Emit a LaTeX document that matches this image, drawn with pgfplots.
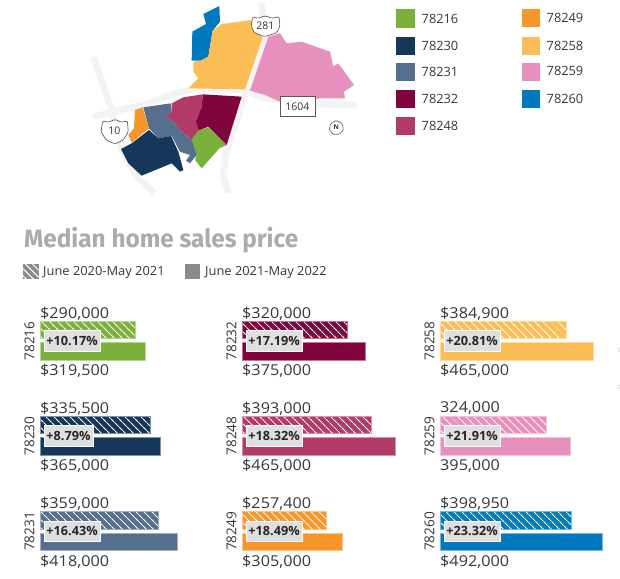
\documentclass[border=0pt]{standalone}
\usepackage{fontspec}
\usepackage{pgfplots}
\pgfplotsset{compat=1.18}
\usetikzlibrary{patterns.meta}
\setmainfont{Open Sans}
\newfontfamily\titlefont{Fira Sans}
\definecolor{cA}{HTML}{7AB03B}
\definecolor{cB}{HTML}{17375A}
\definecolor{cC}{HTML}{566F8E}
\definecolor{cD}{HTML}{80053F}
\definecolor{cE}{HTML}{B23A68}
\definecolor{cF}{HTML}{F7962B}
\definecolor{cG}{HTML}{FDBD56}
\definecolor{cH}{HTML}{E890BD}
\definecolor{cI}{HTML}{0079BF}
\definecolor{txt}{HTML}{33373B}
\definecolor{road}{HTML}{F3F3F3}
\definecolor{legendgray}{HTML}{8A8B8E}
\pgfplotsset{hid/.style={hide axis,scale only axis,clip=false,y dir=reverse}}
% x pos, top y, colour, v1, v2, zip, top label, bottom label, pct
\newcommand{\panel}[9]{%
  \begin{axis}[hid,at={(#1pt,-#2pt)},anchor=north west,width=180pt,height=38.8pt,
    xmin=0,xmax=547112,ymin=0,ymax=38.8]
    \addplot[xbar,bar shift=0pt,bar width=17.3pt,fill=#3,draw=#3!55!white,line width=.4pt,
      postaction={pattern={Lines[angle=-45,distance=5.4pt,line width=1pt]},pattern color=white}]
      coordinates {(#4,8.65)};
    \addplot[xbar,bar shift=0pt,bar width=17.3pt,fill=#3,draw=#3!55!white,line width=.4pt]
      coordinates {(#5,30.15)};
  \end{axis}
  \node[rotate=90,font=\fontsize{13.6}{14}\selectfont,text=txt,inner sep=0pt] at ({#1-10.5},{#2+20}) {#6};
  \node[anchor=west,font=\fontsize{15}{16}\selectfont,text=txt,inner sep=0pt,xscale=1.08] at (#1,{#2-7.7}) {#7};
  \node[anchor=west,font=\fontsize{15}{16}\selectfont,text=txt,inner sep=0pt,xscale=1.08] at (#1,{#2+50.2}) {#8};
  \node[anchor=west,fill=gray!25!white,draw=white,line width=.3pt,text=black!85,
    font=\fontsize{12.7}{14}\selectfont\bfseries,inner xsep=2.8pt,inner ysep=0pt,
    minimum height=20.5pt] at (#1+3.5,{#2+19.7}) {#9};
}
\begin{document}
\begin{tikzpicture}[x=1pt,y=-1pt]
\path[use as bounding box] (0,0) rectangle (620,578);
% map: coordinates in a 3x grid
\begin{axis}[hid,at={(80pt,0pt)},anchor=north west,width=290pt,height=200pt,
  xmin=0,xmax=870,ymin=0,ymax=600]
  \addplot[road,line width=6.5pt,line join=round] coordinates {(40,350)(100,335)(200,312)(280,282)(350,265)(490,270)(560,295)(650,310)(830,315)};
  \addplot[road,line width=6.5pt,line join=round] coordinates {(40,170)(95,330)(125,450)(170,530)(225,580)};
  \addplot[road,line width=6.5pt,line join=round] coordinates {(545,10)(555,100)(500,270)(435,470)(430,530)(445,580)};
  \addplot[fill=cI,draw=none] coordinates {(370,42)(418,18)(420,65)(398,92)(385,170)(362,182)(335,182)(337,95)(378,72)} --cycle;
  \addplot[fill=cG,draw=none] coordinates {(425,72)(515,60)(520,90)(548,112)(495,268)(325,265)(355,235)(340,215)(340,185)(365,182)(385,170)(398,92)} --cycle;
  \addplot[fill=cH,draw=none] coordinates {(565,110)(600,100)(620,130)(665,125)(750,155)(760,200)(775,190)(822,255)(792,275)(795,295)(720,295)(650,305)(600,305)(555,285)(510,272)} --cycle;
  \addplot[fill=cD,draw=none] coordinates {(368,283)(485,290)(440,435)(385,380)(355,392)(347,365)(365,320)} --cycle;
  \addplot[fill=cE,draw=none] coordinates {(275,310)(310,292)(368,283)(365,320)(347,365)(357,392)(335,420)(305,395)(275,360)(253,350)(275,335)} --cycle;
  \addplot[fill=cA,draw=none] coordinates {(385,382)(440,435)(418,445)(365,505)(345,480)(350,465)(333,420)(355,392)} --cycle;
  \addplot[fill=cC,draw=none] coordinates {(190,322)(272,310)(275,335)(253,350)(275,360)(305,395)(335,420)(350,465)(330,490)(318,482)(330,465)(300,455)(275,408)(235,415)(207,385)} --cycle;
  \addplot[fill=cF,draw=none] coordinates {(165,330)(188,322)(207,385)(155,428)(145,405)(162,385)} --cycle;
  \addplot[fill=cB,draw=none] coordinates {(207,390)(235,415)(273,408)(295,455)(310,510)(300,515)(275,490)(185,527)(145,490)(123,447)(155,430)} --cycle;
  % shields
  \addplot[fill=white,draw=black!70,line width=.6pt,rounded corners=1.5pt] coordinates {(518,50)(535,55)(555,47)(575,55)(597,50)(600,78)(590,98)(555,110)(522,98)(514,78)} --cycle;
  \addplot[fill=white,draw=black!70,line width=.6pt,rounded corners=1.5pt] coordinates {(68,362)(85,367)(105,358)(125,367)(142,362)(145,395)(130,420)(105,432)(78,420)(63,395)} --cycle;
  \addplot[fill=white,draw=black!65,line width=.7pt] coordinates {(600,288)(706,288)(706,350)(600,350)} --cycle;
  \addplot[fill=white,draw=black!65,line width=.6pt,rounded corners=2pt] coordinates {(760,363)(778,363)(791,380)(787,397)(769,406)(751,397)(747,380)} --cycle;
  \node[font=\fontsize{10.5}{12}\selectfont,text=txt,inner sep=0pt] at (axis cs:556,78) {281};
  \node[font=\fontsize{10.5}{12}\selectfont,text=txt,inner sep=0pt] at (axis cs:103,393) {10};
  \node[font=\fontsize{10.5}{12}\selectfont,text=txt,inner sep=0pt] at (axis cs:652,320) {1604};
  \node[font=\fontsize{6.5}{8}\selectfont\bfseries,text=txt,inner sep=0pt] at (axis cs:769,382) {N};
\end{axis}
% colour key and period key
\begin{axis}[hid,at={(0pt,0pt)},anchor=north west,width=620pt,height=578pt,
  xmin=0,xmax=620,ymin=0,ymax=578]
  \addplot[fill=cA,draw=none] coordinates {(396,9)(414.5,9)(414.5,27.5)(396,27.5)} --cycle;
  \addplot[fill=cB,draw=none] coordinates {(396,36.5)(414.5,36.5)(414.5,54.5)(396,54.5)} --cycle;
  \addplot[fill=cC,draw=none] coordinates {(396,63)(414.5,63)(414.5,81)(396,81)} --cycle;
  \addplot[fill=cD,draw=none] coordinates {(396,89.5)(414.5,89.5)(414.5,108)(396,108)} --cycle;
  \addplot[fill=cE,draw=none] coordinates {(396,117)(414.5,117)(414.5,135)(396,135)} --cycle;
  \addplot[fill=cF,draw=none] coordinates {(521.5,9)(540,9)(540,27)(521.5,27)} --cycle;
  \addplot[fill=cG,draw=none] coordinates {(521.5,36.5)(540,36.5)(540,54.5)(521.5,54.5)} --cycle;
  \addplot[fill=cH,draw=none] coordinates {(521.5,63)(540,63)(540,81)(521.5,81)} --cycle;
  \addplot[fill=cI,draw=none] coordinates {(521.5,89.5)(540,89.5)(540,108)(521.5,108)} --cycle;
  \addplot[fill=legendgray,draw=none,postaction={pattern={Lines[angle=-45,distance=5pt,line width=1pt]},pattern color=white}] coordinates {(23,264)(38.5,264)(38.5,279)(23,279)} --cycle;
  \addplot[fill=legendgray,draw=none] coordinates {(184.5,264)(200,264)(200,279)(184.5,279)} --cycle;
  \addplot[only marks,mark=o,mark size=2pt,mark options={draw=black!25}] coordinates {(620,350)(620,387)};
\end{axis}
\foreach \t/\x/\y in {78216/421.5/18.5,78230/421.5/45.5,78231/421.5/72,78232/421.5/98.5,78248/421.5/126,78249/546.5/17.5,78258/546.5/45.5,78259/546.5/71,78260/546.5/99}
  \node[anchor=west,font=\fontsize{12.8}{14}\selectfont,text=txt,inner sep=0pt] at (\x,\y) {\t};
\node[anchor=west,font=\titlefont\fontsize{25}{28}\selectfont\bfseries,text=black!33,inner sep=0pt,xscale=.975] at (24,240) {Median home sales price};
\node[anchor=west,font=\fontsize{12.5}{14}\selectfont,text=txt,inner sep=0pt,xscale=1.03] at (43,272) {June 2020-May 2021};
\node[anchor=west,font=\fontsize{12.5}{14}\selectfont,text=txt,inner sep=0pt,xscale=1.03] at (205,272) {June 2021-May 2022};
\panel{40}{321}{cA}{290000}{319500}{78216}{\$290,000}{\$319,500}{+10.17\%}
\panel{40}{416}{cB}{335500}{365000}{78230}{\$335,500}{\$365,000}{+8.79\%}
\panel{40}{511.5}{cC}{359000}{418000}{78231}{\$359,000}{\$418,000}{+16.43\%}
\panel{242}{321}{cD}{320000}{375000}{78232}{\$320,000}{\$375,000}{+17.19\%}
\panel{242}{416}{cE}{393000}{465000}{78248}{\$393,000}{\$465,000}{+18.32\%}
\panel{242}{511.5}{cF}{257400}{305000}{78249}{\$257,400}{\$305,000}{+18.49\%}
\panel{440}{321}{cG}{384900}{465000}{78258}{\$384,900}{\$465,000}{+20.81\%}
\panel{440}{416}{cH}{324000}{395000}{78259}{324,000}{395,000}{+21.91\%}
\panel{440}{511.5}{cI}{398950}{492000}{78260}{\$398,950}{\$492,000}{+23.32\%}
\end{tikzpicture}
\end{document}
